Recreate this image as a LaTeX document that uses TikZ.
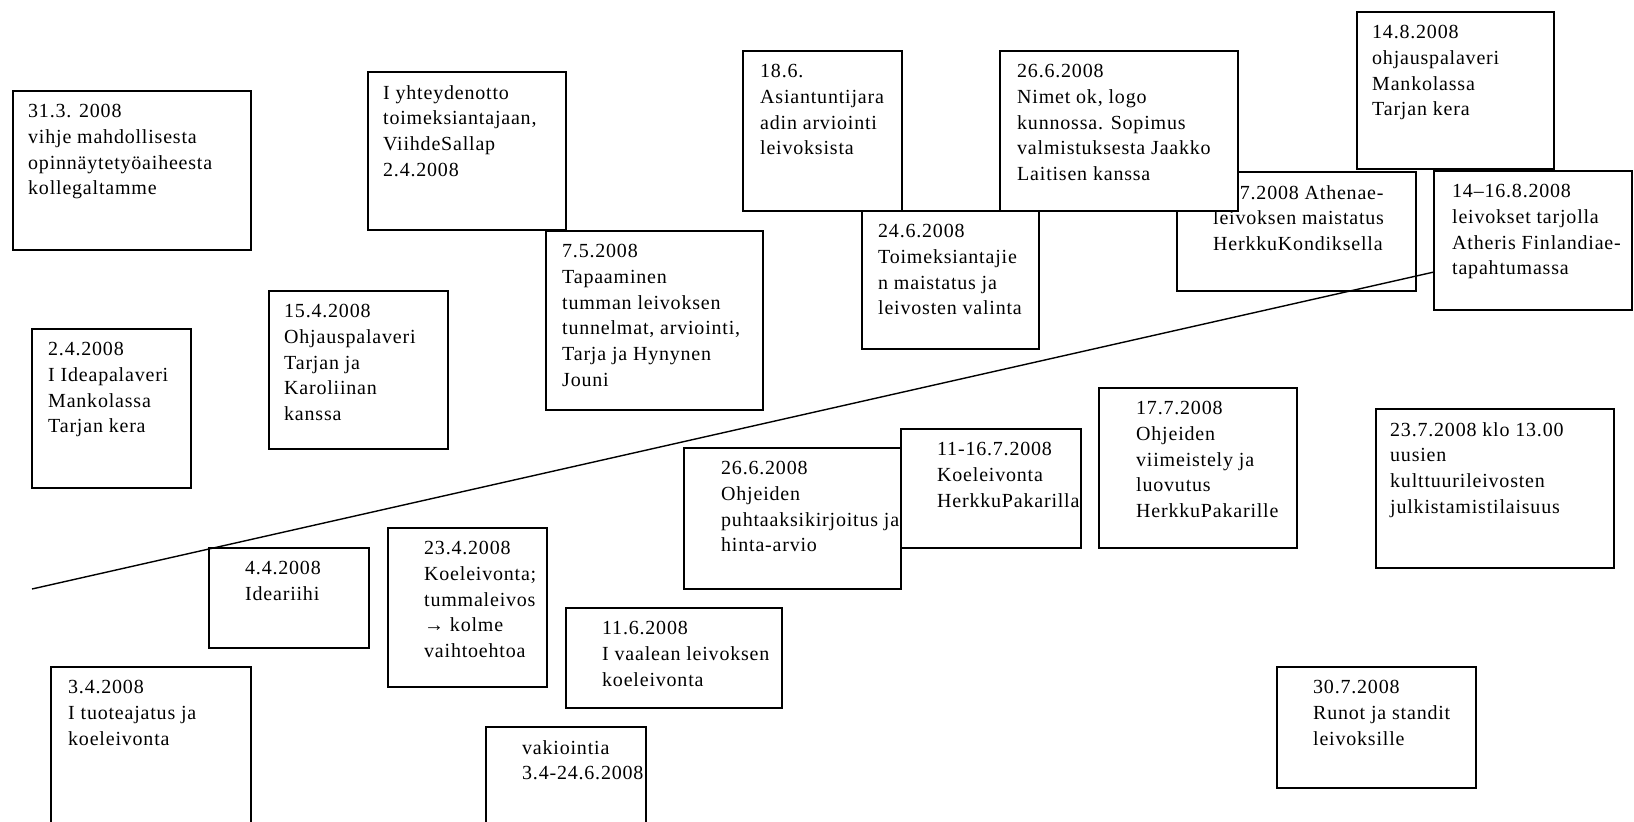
\documentclass[tikz,border=0pt]{standalone}
\usepackage{fontspec}
\setmainfont[LetterSpace=4]{Liberation Serif}
\tikzset{
  event/.style={draw, line width=1.4pt, fill=white, anchor=north west, inner sep=0pt, outer sep=0pt},
  eventtext/.style={anchor=north west, align=left, inner sep=0pt, font=\fontsize{20}{25.8}\selectfont},
}
\begin{document}
\begin{tikzpicture}
[x=1pt, y=-1pt]
\useasboundingbox (0,0) rectangle (1634,822);
\clip (0,0) rectangle (1634,822);
\fill [white] (0,0) rectangle (1634,822);
% kevat
\node [event, minimum width=238, minimum height=159] (e0331) at (13,91) {};
\node [eventtext] (e0331t) at ([shift={(15,13)}]e0331.north west) {31.3. 2008\\vihje mahdollisesta\\opinnäytetyöaiheesta\\kollegaltamme};
\node [event, minimum width=198, minimum height=158] (e0402a) at (368,72) {};
\node [eventtext] (e0402at) at ([shift={(15,13)}]e0402a.north west) {I yhteydenotto\\toimeksiantajaan,\\ViihdeSallap\\2.4.2008};
\node [event, minimum width=159, minimum height=159] (e0402) at (32,329) {};
\node [eventtext] (e0402t) at ([shift={(16,13)}]e0402.north west) {2.4.2008\\I Ideapalaveri\\Mankolassa\\Tarjan kera};
\node [event, minimum width=179, minimum height=158] (e0415) at (269,291) {};
\node [eventtext] (e0415t) at ([shift={(15,13)}]e0415.north west) {15.4.2008\\Ohjauspalaveri\\Tarjan ja\\Karoliinan\\kanssa};
\node [event, minimum width=217, minimum height=179] (e0507) at (546,231) {};
\node [eventtext] (e0507t) at ([shift={(16,13)}]e0507.north west) {7.5.2008\\Tapaaminen\\tumman leivoksen\\tunnelmat, arviointi,\\Tarja ja Hynynen\\Jouni};
\node [event, minimum width=160, minimum height=100] (e0404) at (209,548) {};
\node [eventtext] (e0404t) at ([shift={(36,13)}]e0404.north west) {4.4.2008\\Ideariihi};
\node [event, minimum width=200, minimum height=180] (e0403) at (51,667) {};
\node [eventtext] (e0403t) at ([shift={(17,13)}]e0403.north west) {3.4.2008\\I tuoteajatus ja\\koeleivonta};
\node [event, minimum width=159, minimum height=159] (e0423) at (388,528) {};
\node [eventtext] (e0423t) at ([shift={(36,13)}]e0423.north west) {23.4.2008\\Koeleivonta;\\tummaleivos\\→ kolme\\vaihtoehtoa};
\node [event, minimum width=216, minimum height=100] (e0611) at (566,608) {};
\node [eventtext] (e0611t) at ([shift={(36,13)}]e0611.north west) {11.6.2008\\I vaalean leivoksen\\koeleivonta};
\node [event, minimum width=160, minimum height=120] (evak) at (486,727) {};
\node [eventtext] (evakt) at ([shift={(36,13)}]evak.north west) {vakiointia\\3.4-24.6.2008};
% kesa
\node [event, minimum width=217, minimum height=141] (e0626b) at (684,448) {};
\node [eventtext] (e0626bt) at ([shift={(37,13)}]e0626b.north west) {26.6.2008\\Ohjeiden\\puhtaaksikirjoitus ja\\hinta-arvio};
\node [event, minimum width=180, minimum height=119] (e0711) at (901,429) {};
\node [eventtext] (e0711t) at ([shift={(36,13)}]e0711.north west) {11-16.7.2008\\Koeleivonta\\HerkkuPakarilla};
\node [event, minimum width=198, minimum height=160] (e0717) at (1099,388) {};
\node [eventtext] (e0717t) at ([shift={(37,13)}]e0717.north west) {17.7.2008\\Ohjeiden\\viimeistely ja\\luovutus\\HerkkuPakarille};
\node [event, minimum width=239, minimum height=119] (e07ath) at (1177,172) {};
\node [eventtext] (e07atht) at ([shift={(36,13)}]e07ath.north west) {11.7.2008 Athenae-\\leivoksen maistatus\\HerkkuKondiksella};
\node [event, minimum width=159, minimum height=160] (e0618) at (743,51) {};
\node [eventtext] (e0618t) at ([shift={(17,13)}]e0618.north west) {18.6.\\Asiantuntijara\\adin arviointi\\leivoksista};
\node [event, minimum width=238, minimum height=160] (e0626a) at (1000,51) {};
\node [eventtext] (e0626at) at ([shift={(17,13)}]e0626a.north west) {26.6.2008\\Nimet ok, logo\\kunnossa. Sopimus\\valmistuksesta Jaakko\\Laitisen kanssa};
\node [event, minimum width=177, minimum height=138] (e0624) at (862,211) {};
\node [eventtext] (e0624t) at ([shift={(16,13)}]e0624.north west) {24.6.2008\\Toimeksiantajie\\n maistatus ja\\leivosten valinta};
\node [event, minimum width=197, minimum height=157] (e0814) at (1357,12) {};
\node [eventtext] (e0814t) at ([shift={(15,13)}]e0814.north west) {14.8.2008\\ohjauspalaveri\\Mankolassa\\Tarjan kera};
\node [event, minimum width=198, minimum height=139] (e0816) at (1434,171) {};
\node [eventtext] (e0816t) at ([shift={(18,13)}]e0816.north west) {14–16.8.2008\\leivokset tarjolla\\Atheris Finlandiae-\\tapahtumassa};
\node [event, minimum width=238, minimum height=159] (e0723) at (1376,409) {};
\node [eventtext] (e0723t) at ([shift={(14,13)}]e0723.north west) {23.7.2008 klo 13.00\\uusien\\kulttuurileivosten\\julkistamistilaisuus};
\node [event, minimum width=199, minimum height=121] (e0730) at (1277,667) {};
\node [eventtext] (e0730t) at ([shift={(36,13)}]e0730.north west) {30.7.2008\\Runot ja standit\\leivoksille};
% aikajana
\coordinate (tlstart) at (32,589);
\coordinate (tlend) at (1434,272);
\draw [line width=1.4pt] (tlstart) -- (tlend);
\end{tikzpicture}
\end{document}
